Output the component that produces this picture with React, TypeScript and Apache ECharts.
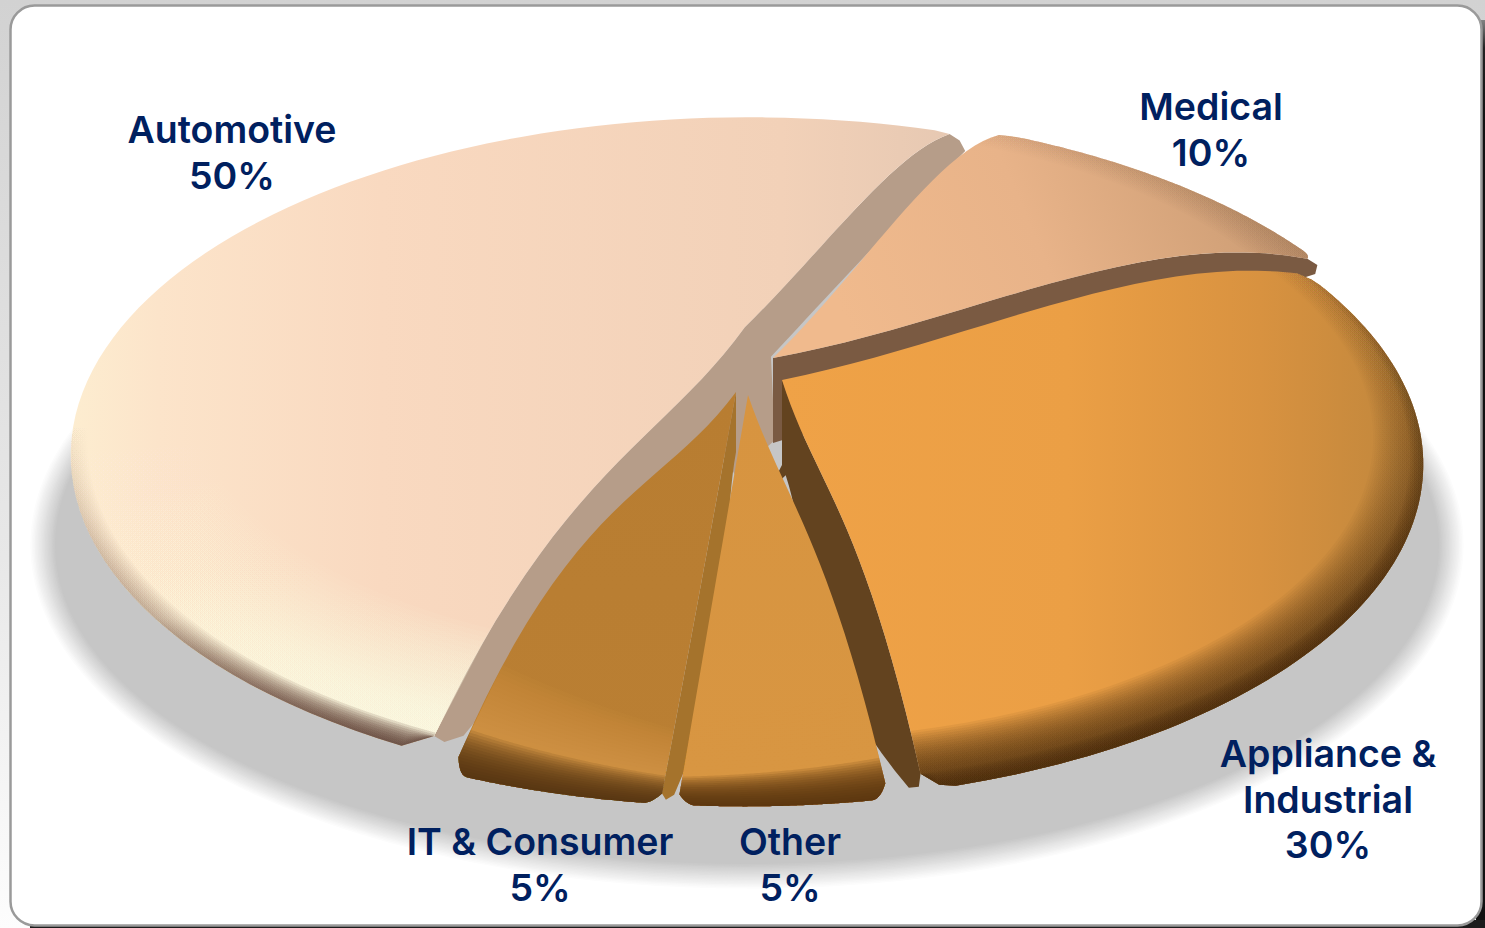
import React, { useEffect, useRef } from "react";
import * as echarts from "echarts";

// ---- data (clockwise from the far edge of the Automotive/Medical cut) ----
const categories = ["Automotive", "Medical", "Appliance &\nIndustrial", "Other", "IT & Consumer"];
const shares = [50, 10, 30, 5, 5];

// ---- drawing constants ----
const W = 1485, H = 928;
const FIRST_ANGLE = 203.6;
const drawOrder = [0, 1, 2, 4, 3];
const P0 = { cx: 745, cy: 385, A: 663, B: 323, k: 0.211 };
const TIP_CUT = 0.02;
const rad = (d: number) => (d * Math.PI) / 180;
const LG = (x: number, y: number, x2: number, y2: number, stops: [number, string][]) =>
  new echarts.graphic.LinearGradient(x, y, x2, y2, stops.map(([offset, color]) => ({ offset, color })), true);

type Ring = { width: number; steps: number; fill: any };
type Look = {
  trim: [number, number]; off: [number, number]; apex: [number, number]; bow: [number, number]; drop: number; tip: number;
  wall?: { side: number; color: string; q: [number, number]; spread: number; extra: [number, number][] };
  wall2?: { q0: [number, number]; q1: [number, number]; color: string; base: [number, number][] };
  face: any; rings: Ring[]; label: [number, number];
};
const looks: Look[] = [
  { // Automotive
    trim: [-0.5, -2], off: [4, -1], apex: [745, 327], bow: [50, 15], drop: 58, tip: 2,
    wall2: { q0: [30, -8], q1: [16, 14], color: "#b69d89", base: [[735, 475], [775, 440]] },
    face: LG(70, 0, 960, 0, [[0, "#fdedd0"], [0.1, "#fce4ca"], [0.35, "#f9d9c0"], [0.8, "#f2d1b8"], [1, "#e6c8b2"]]),
    rings: [
      { width: 0.17, steps: 24, fill: LG(0, 400, 0, 740, [[0, "rgba(255,246,218,0)"], [0.5, "rgba(255,246,218,0.035)"], [1, "rgba(255,250,226,0.11)"]]) },
      { width: 0.024, steps: 10, fill: LG(0, 420, 0, 750, [[0, "rgba(110,75,60,0)"], [0.6, "rgba(110,75,60,0.05)"], [1, "rgba(90,60,50,0.19)"]]) },
    ],
    label: [232, 152.5],
  },
  { // Medical
    trim: [3, 7.5], off: [8, -8], apex: [773, 358], bow: [22, 30], drop: 85, tip: 2.5,
    wall: { side: 1, color: "#7a5a42", q: [8, 10], spread: 0, extra: [] },
    face: LG(850, 330, 1230, 170, [[0, "#f0ba8d"], [0.5, "#e8b389"], [1, "#cf9f76"]]),
    rings: [{ width: 0.14, steps: 16, fill: LG(1000, 0, 1300, 0, [[0, "rgba(160,120,90,0.015)"], [1, "rgba(150,110,80,0.045)"]]) }],
    label: [1211, 129.5],
  },
  { // Appliance
    trim: [7, 0], off: [0, 8], apex: [782, 380], bow: [25, 50], drop: 85, tip: 2,
    wall: { side: 1, color: "#63431f", q: [-8, 6], spread: -30, extra: [[768, 492]] },
    face: LG(780, 0, 1420, 0, [[0, "#efa247"], [0.45, "#eb9f45"], [0.75, "#d89240"], [1, "#bf863c"]]),
    rings: [
      { width: 0.075, steps: 24, fill: LG(0, 270, 0, 790, [[0, "rgba(90,55,20,0.008)"], [0.4, "rgba(80,50,15,0.035)"], [1, "rgba(75,45,12,0.085)"]]) },
      { width: 0.02, steps: 8, fill: LG(0, 300, 0, 600, [[0, "rgba(80,50,15,0.015)"], [1, "rgba(70,40,10,0.11)"]]) },
    ],
    label: [1328, 799],
  },
  { // Other
    trim: [2.5, -1], off: [0, 12], apex: [748, 395], bow: [40, 0], drop: 60, tip: 1.2,
    face: LG(0, 400, 0, 780, [[0, "#d79440"], [1, "#d89642"]]),
    rings: [
      { width: 0.16, steps: 24, fill: "rgba(240,175,90,0.022)" },
      { width: 0.055, steps: 16, fill: "rgba(85,52,14,0.14)" },
    ],
    label: [790, 864.5],
  },
  { // IT & Consumer
    trim: [0, -3], off: [-3, 12], apex: [736, 392], bow: [0, 55], drop: 60, tip: 1.2,
    wall: { side: 0, color: "#a5732c", q: [10, 0], spread: 18, extra: [] },
    face: LG(0, 400, 0, 780, [[0, "#b87d31"], [1, "#ba7f33"]]),
    rings: [
      { width: 0.15, steps: 24, fill: "rgba(245,180,100,0.03)" },
      { width: 0.055, steps: 16, fill: "rgba(80,50,14,0.13)" },
    ],
    label: [540, 864.5],
  },
];

// ---- disc to screen ----
function project(r: number, deg: number): [number, number] {
  const X = r * Math.sin(rad(deg));
  const Z = -r * Math.cos(rad(deg));
  const w = 1 - P0.k * Z;
  return [P0.cx + (P0.A * X) / w, P0.cy + (P0.B * Z) / w];
}
function sliceAngles(i: number): [number, number] {
  let a = FIRST_ANGLE;
  for (let j = 0; j < i; j++) a += (shares[j] / 100) * 360;
  const b = a + (shares[i] / 100) * 360;
  return [a + looks[i].trim[0], b + looks[i].trim[1]];
}
const bowShape = (r: number) => 6.75 * r * r * (1 - r);
function surface(i: number, r: number, deg: number): [number, number] {
  const L = looks[i];
  const [a, b] = sliceAngles(i);
  const u = (deg - a) / (b - a);
  const bow = L.bow[0] + (L.bow[1] - L.bow[0]) * u;
  const [x, y] = project(r, deg);
  const sx = L.apex[0] - P0.cx - L.off[0];
  const sy = L.apex[1] - P0.cy - L.off[1];
  return [x + L.off[0] + sx * (1 - r), y + L.off[1] + sy * (1 - r) - bow * bowShape(r)];
}
const RIM = 1 - TIP_CUT;
function edge(i: number, deg: number, outward: boolean, n = 24) {
  const pts: [number, number][] = [];
  for (let k = 0; k <= n; k++) {
    const t = (k / n) * RIM;
    pts.push(surface(i, outward ? t : RIM - t, deg));
  }
  return pts;
}
function taper(i: number, a: number, b: number, deg: number) {
  const d = Math.min(deg - a, b - deg);
  const q = 1 - Math.min(1, d / looks[i].tip);
  return 1 - TIP_CUT * q * q;
}
function arc(i: number, r: number, a: number, b: number, n = 90) {
  const [lo, hi] = a < b ? [a, b] : [b, a];
  const pts: [number, number][] = [];
  for (let k = 0; k <= n; k++) {
    const deg = a + ((b - a) * k) / n;
    pts.push(surface(i, Math.min(r, taper(i, lo, hi, deg)), deg));
  }
  return pts;
}
function baseEdge(i: number, deg: number, q: [number, number], spread: number, outward: boolean, rMin = 0) {
  const L = looks[i];
  const [a] = sliceAngles(i);
  const bow = deg === a ? L.bow[0] : L.bow[1];
  const pts: [number, number][] = [];
  for (let k = 0; k <= 24; k++) {
    const t = k / 24;
    const r = rMin + (RIM - rMin) * (outward ? t : 1 - t);
    const [x, y] = surface(i, r, deg);
    const s = bowShape(r);
    pts.push([x + q[0] * r + spread * s, y + q[1] * r + L.drop * (1 - r) + bow * s]);
  }
  return pts;
}
function cap(i: number, deg: number, q: [number, number]): [number, number] {
  const [x, y] = surface(i, RIM, deg);
  const [ex, ey] = surface(i, 1, deg);
  return [x + q[0] / 2 + (ex - x) * 0.6, y + q[1] / 2 + (ey - y) * 0.6];
}

function renderItem(_params: any, api: any) {
  const i = api.value(0) as number;
  const L = looks[i];
  const [a, b] = sliceAngles(i);
  const children: any[] = [];
  if (L.wall2) {
    const w = L.wall2;
    const pts = [
      ...edge(i, b, false),
      ...edge(i, a, true),
      cap(i, a, w.q0),
      ...baseEdge(i, a, w.q0, 0, false, 0.15),
      ...w.base,
      ...baseEdge(i, b, w.q1, 0, true, 0.1),
      cap(i, b, w.q1),
    ];
    children.push({ type: "polygon", shape: { points: pts }, style: { fill: w.color } });
  }
  if (L.wall) {
    const deg = L.wall.side ? b : a;
    const base = baseEdge(i, deg, L.wall.q, L.wall.spread, false);
    const last = base.pop() as [number, number];
    const pts = [...edge(i, deg, true), cap(i, deg, L.wall.q), ...base, ...L.wall.extra, last];
    children.push({ type: "polygon", shape: { points: pts }, style: { fill: L.wall.color } });
  }
  const top = [...edge(i, a, true), ...arc(i, 1, a, b), ...edge(i, b, false)];
  children.push({ type: "polygon", shape: { points: top }, style: { fill: L.face } });
  for (const ring of L.rings) {
    for (let k = 1; k <= ring.steps; k++) {
      const inner = 1 - (ring.width * k) / ring.steps;
      const pts = [...arc(i, 1, a, b), ...arc(i, inner, b, a)];
      children.push({ type: "polygon", shape: { points: pts }, style: { fill: ring.fill } });
    }
  }
  return { type: "group", children };
}

function labelItem(_params: any, api: any) {
  const i = api.value(0) as number;
  return {
    type: "text",
    z2: 100,
    style: {
      text: `${categories[i]}\n${shares[i]}%`,
      x: looks[i].label[0],
      y: looks[i].label[1],
      align: "center",
      verticalAlign: "middle",
      fill: "#00205f",
      font: '600 37.5px "Inter"',
      lineHeight: 45.5,
    },
  };
}

function shadowEllipses() {
  const out: any[] = [];
  const n = 18;
  for (let k = 0; k <= n; k++) {
    const t = k / n;
    const g = Math.round(255 - (255 - 198) * t);
    out.push({
      type: "ellipse",
      z: 1,
      silent: true,
      shape: { cx: 747, cy: 545, rx: 718 - 26 * t, ry: 345 - 26 * t },
      style: { fill: `rgb(${g},${g},${g})` },
    });
  }
  return out;
}

export default function App() {
  const ref = useRef<HTMLDivElement>(null);
  useEffect(() => {
    document.body.style.margin = "0";
    document.body.style.overflow = "hidden";
    const chart = echarts.init(ref.current!, undefined, { renderer: "svg" });
    chart.setOption({
      animation: false,
      graphic: [
        { type: "rect", z: 0, silent: true, shape: { x: 0, y: 0, width: W, height: H }, style: { fill: LG(0, 0, 0, 928, [[0, "#d2d2d2"], [0.6, "#e8e8e8"], [1, "#fdfdfd"]]) } },
        { type: "rect", z: 0, silent: true, shape: { x: 1476, y: 20, width: 9, height: 908 }, style: { fill: LG(0, 0, 0, 120, [[0, "#c8c8c8"], [0.4, "#222"], [1, "#111"]]) } },
        { type: "rect", z: 0, silent: true, shape: { x: 30, y: 920, width: 1455, height: 8 }, style: { fill: "#1c1c1c" } },
        { type: "rect", z: 0, silent: true, shape: { x: 10.5, y: 5.5, width: 1471, height: 920, r: 24 }, style: { fill: "#fff", stroke: "#9a9a9a", lineWidth: 2.5 } },
        ...shadowEllipses(),
      ],
      series: [
        { type: "custom", coordinateSystem: "none", silent: true, z: 2, renderItem, data: drawOrder.map((i) => [i, shares[i]]) },
        { type: "custom", coordinateSystem: "none", silent: true, z: 3, renderItem: labelItem, data: categories.map((_, i) => [i, shares[i]]) },
      ],
    });
    return () => chart.dispose();
  }, []);
  return <div ref={ref} style={{ width: W, height: H }} />;
}
